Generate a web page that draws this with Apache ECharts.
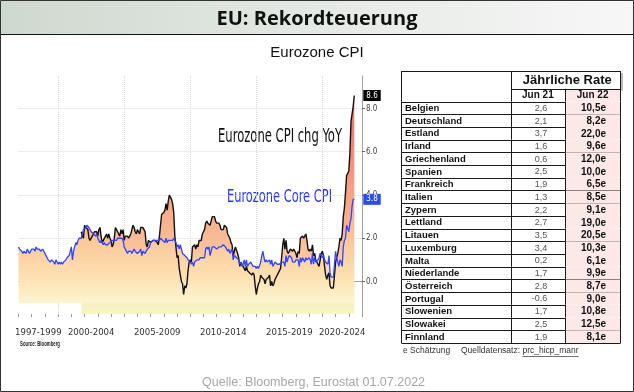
<!DOCTYPE html>
<html><head><meta charset="utf-8">
<script src="https://cdn.jsdelivr.net/npm/echarts@6/dist/echarts.min.js"></script>
<style>html,body{margin:0;padding:0;background:#fff}#c{width:634px;height:392px}</style>
</head><body><div id="c"></div>
<script>
// ---------- data ----------
const coreStart = [1997, 1];
const coreValues = [
 1.6,1.5,1.5,1.4,1.3,1.4,1.4,1.3,1.5,1.4,1.3,1.4,
 1.5,1.5,1.5,1.4,1.6,1.5,1.5,1.5,1.4,1.4,1.5,1.4,
 1.3,1.2,1.1,1.0,1.0,0.9,1.0,1.0,0.9,0.8,1.0,0.9,
 0.8,0.9,0.8,0.9,0.8,0.9,0.9,1.0,1.1,1.1,1.2,1.2,
 1.6,1.0,1.4,1.6,1.8,1.7,1.9,2.0,2.0,2.0,2.2,2.4,
 2.4,2.5,2.6,2.6,2.5,2.4,2.3,2.3,2.2,2.2,2.1,2.2,
 2.0,1.9,1.8,1.9,1.8,1.7,1.8,1.7,1.7,1.7,1.7,1.8,
 1.8,1.9,1.9,1.9,1.9,1.9,2.0,2.0,2.0,2.0,2.0,1.9,
 1.6,1.5,1.5,1.3,1.4,1.4,1.4,1.3,1.4,1.5,1.4,1.4,
 1.3,1.3,1.4,1.5,1.2,1.4,1.4,1.3,1.4,1.5,1.5,1.6,
 1.8,1.8,1.9,1.9,1.9,1.9,1.9,1.9,1.9,2.0,2.0,1.9,
 1.9,1.8,2.0,1.8,1.9,1.9,1.9,1.9,1.9,2.0,1.9,1.8,
 1.6,1.7,1.5,1.7,1.5,1.3,1.3,1.2,1.2,1.1,1.0,1.0,
 0.9,0.8,0.9,0.7,0.9,0.9,1.0,1.0,1.0,1.1,1.1,1.1,
 1.1,1.1,1.5,1.6,1.5,1.6,1.2,1.2,1.6,1.6,1.6,1.6,
 1.5,1.5,1.6,1.6,1.6,1.6,1.7,1.7,1.6,1.5,1.4,1.5,
 1.3,1.3,1.5,1.0,1.2,1.2,1.1,1.1,1.0,0.8,0.9,0.7,
 0.8,1.0,0.7,1.0,0.7,0.8,0.8,0.9,0.8,0.7,0.7,0.7,
 0.6,0.7,0.6,0.6,0.9,1.2,1.4,1.1,0.9,1.0,0.9,0.9,
 1.0,0.8,1.0,0.7,0.8,0.9,0.9,0.8,0.8,0.8,0.8,0.9,
 0.9,0.9,0.7,1.2,0.9,1.1,1.2,1.2,1.1,0.9,0.9,0.9,
 1.0,1.0,1.0,0.7,1.1,0.9,1.1,1.0,0.9,1.1,1.0,1.0,
 1.1,1.0,0.8,1.3,0.8,1.1,0.9,0.9,1.0,1.1,1.3,1.3,
 1.1,1.2,1.0,0.9,0.9,0.8,1.2,0.4,0.2,0.2,0.2,0.2,
 1.4,1.1,0.9,0.7,1.0,0.9,0.7,1.6,1.9,2.0,2.6,2.6,
 2.3,2.7,2.9,3.5,3.8,3.8
];
const cpiStart = [2001, 10];
const cpiValues = [
 2.3,2.1,2.0,
 2.6,2.5,2.5,2.4,2.0,1.9,2.0,2.1,2.1,2.3,2.3,2.3,
 2.1,2.4,2.5,2.1,1.8,1.9,1.9,2.1,2.2,2.0,2.2,2.0,
 1.9,1.6,1.7,2.0,2.5,2.4,2.3,2.3,2.1,2.4,2.2,2.4,
 1.9,2.1,2.1,2.1,2.0,2.1,2.2,2.2,2.6,2.5,2.3,2.2,
 2.4,2.3,2.2,2.5,2.5,2.5,2.4,2.3,1.7,1.6,1.9,1.9,
 1.8,1.8,1.9,1.9,1.9,1.9,1.8,1.7,2.1,2.6,3.1,3.1,
 3.2,3.3,3.6,3.3,3.7,4.0,4.0,3.8,3.6,3.2,2.1,1.6,
 1.1,1.2,0.6,0.6,0.0,-0.1,-0.6,-0.2,-0.3,-0.1,0.5,0.9,
 1.0,0.9,1.6,1.6,1.7,1.5,1.7,1.6,1.9,1.9,1.9,2.2,
 2.3,2.4,2.7,2.8,2.7,2.7,2.6,2.6,3.0,3.0,3.0,2.8,
 2.7,2.7,2.7,2.6,2.4,2.4,2.4,2.6,2.6,2.5,2.2,2.2,
 2.0,1.8,1.7,1.2,1.4,1.6,1.6,1.3,1.1,0.7,0.9,0.8,
 0.7,0.7,0.5,0.7,0.5,0.5,0.4,0.4,0.3,0.4,0.3,-0.2,
 -0.6,-0.3,-0.1,0.0,0.3,0.2,0.2,0.1,-0.1,0.1,0.1,0.2,
 0.3,-0.2,0.0,-0.2,-0.1,0.1,0.2,0.2,0.4,0.5,0.6,1.1,
 1.7,2.0,1.5,1.9,1.4,1.3,1.3,1.5,1.5,1.4,1.5,1.4,
 1.3,1.1,1.4,1.3,2.0,2.0,2.1,2.0,2.1,2.2,1.9,1.5,
 1.4,1.5,1.4,1.7,1.2,1.3,1.0,1.0,0.8,0.7,1.0,1.3,
 1.4,1.2,0.7,0.3,0.1,0.3,0.4,-0.2,-0.3,-0.3,-0.3,-0.3,
 0.9,0.9,1.3,1.6,2.0,1.9,2.2,3.0,3.4,4.1,4.9,5.0,
 5.1,5.9,7.4,7.4,8.1,8.6
];
const xLabels = ['1997-1999','2000-2004','2005-2009','2010-2014','2015-2019','2020-2024'];
const xLabelAt = [1998.5, 2002.5, 2007.5, 2012.5, 2017.5, 2021.5];
const xBreaks = [2000, 2005, 2010, 2015, 2020];
const yTicks = [0, 2, 4, 6, 8];

const countries = ['Belgien','Deutschland','Estland','Irland','Griechenland','Spanien','Frankreich','Italien','Zypern','Lettland','Litauen','Luxemburg','Malta','Niederlande','Österreich','Portugal','Slowenien','Slowakei','Finnland'];
const rateJun21 = [2.6,2.1,3.7,1.6,0.6,2.5,1.9,1.3,2.2,2.7,3.5,3.4,0.2,1.7,2.8,-0.6,1.7,2.5,1.9];
const rateJun22 = [10.5,8.2,22.0,9.6,12.0,10.0,6.5,8.5,9.1,19.0,20.5,10.3,6.1,9.9,8.7,9.0,10.8,12.5,8.1];
const tableHeader = 'Jährliche Rate';
const tableCols = ['Jun 21', 'Jun 22'];

// ---------- helpers ----------
const NARROW = "'Liberation Sans Narrow','Arial Narrow','DejaVu Sans Condensed',sans-serif";
const ARIAL = "'Liberation Sans',Arial,sans-serif";
function monthly(start, vals){ return vals.map((v,i)=>[start[0] + (start[1]-1+i)/12, v]); }
const cpiData = monthly(cpiStart, cpiValues);
const coreData = monthly(coreStart, coreValues);
const ctx = document.createElement('canvas').getContext('2d');
function measure(text, font){ ctx.font = font; return ctx.measureText(text).width; }
function fitText(text, left, cy, size, weight, family, color, width){
  const font = weight + ' ' + size + 'px ' + family;
  const w = measure(text, font);
  return {type:'text', x:left, y:cy, scaleX: width / w, style:{text:text, font:font, fill:color, align:'left', verticalAlign:'middle'}};
}
const fmt = v => v.toFixed(1).replace('.', ',');
const px = v => Math.round(v) + 0.5;
const G = echarts.graphic.LinearGradient;

const cpiGrad = new G(0, 95, 0, 314, [
  {offset:0, color:'#ee6f62'}, {offset:0.2, color:'#f2846f'}, {offset:0.45, color:'#f6a284'},
  {offset:0.6, color:'#f8b492'}, {offset:0.75, color:'#fac9a3'}, {offset:0.88, color:'#fbe2b9'},
  {offset:1, color:'#f6f7c4'}], true);
const coreGrad = new G(0, 195, 0, 302, [
  {offset:0, color:'#f7ab84'}, {offset:0.3, color:'#f9bf94'}, {offset:0.5, color:'#fbcd9f'},
  {offset:0.8, color:'#fde3b5'}, {offset:1, color:'#fbf5cf'}], true);

const lineStroke = {stroke:'#1a1a1a', lineWidth:1};
function L(x1,y1,x2,y2){ return {type:'line', shape:{x1:x1,y1:y1,x2:x2,y2:y2}, style:lineStroke}; }

function tableRow(params, api){
  const i = params.dataIndex;
  const tl = api.coord([0, i]), br = api.coord([4, i + 1]);
  const x2 = api.coord([2, i])[0], x3 = api.coord([3, i])[0];
  const top = tl[1], bot = br[1], left = tl[0], right = br[0];
  const mid = (top + bot) / 2 + 0.5;
  return {type:'group', children:[
    {type:'rect', shape:{x:x3, y:top, width:right - x3, height:bot - top}, style:{fill:'#fde8e8'}},
    L(px(left), px(bot), px(right), px(bot)),
    L(px(left), top, px(left), bot),
    L(px(x2), top, px(x2), bot),
    L(px(x3), top, px(x3), bot),
    L(px(right), top, px(right), bot),
    {type:'text', style:{text:countries[i], x:left + 4, y:mid, font:'bold 9.5px ' + ARIAL, fill:'#111', align:'left', verticalAlign:'middle'}},
    {type:'text', style:{text:fmt(rateJun21[i]), x:x3 - 18, y:mid, font:'9px ' + ARIAL, fill:'#555', align:'right', verticalAlign:'middle'}},
    {type:'text', style:{text:fmt(rateJun22[i]) + 'e', x:right - 14, y:mid, font:'bold 10px ' + ARIAL, fill:'#111', align:'right', verticalAlign:'middle'}}
  ]};
}
function tableHead(params, api){
  const tl = api.coord([0, -2.4]), mid1 = api.coord([2, -1]), br = api.coord([4, 0]);
  const x2 = mid1[0], x3 = api.coord([3, -1])[0];
  const top = tl[1], ym = mid1[1], bot = br[1], left = tl[0], right = br[0];
  return {type:'group', children:[
    {type:'rect', shape:{x:x3, y:ym, width:right - x3, height:bot - ym}, style:{fill:'#fde8e8'}},
    {type:'rect', shape:{x:right + 1, y:top + 2, width:2, height:ym - top}, style:{fill:'#bbbbbb'}},
    L(px(left), px(top), px(right), px(top)),
    L(px(x2), px(ym), px(right), px(ym)),
    L(px(left), px(bot), px(right), px(bot)),
    L(px(left), top, px(left), bot),
    L(px(x2), top, px(x2), bot),
    L(px(x3), ym, px(x3), bot),
    L(px(right), top, px(right), bot),
    {type:'text', style:{text:tableHeader, x:(x2 + right) / 2 + 2, y:(top + ym) / 2 + 1, font:'bold 13px ' + ARIAL, fill:'#111', align:'center', verticalAlign:'middle'}},
    {type:'text', style:{text:tableCols[0], x:(x2 + x3) / 2, y:(ym + bot) / 2 + 0.5, font:'bold 10px ' + ARIAL, fill:'#111', align:'center', verticalAlign:'middle'}},
    {type:'text', style:{text:tableCols[1], x:(x3 + right) / 2, y:(ym + bot) / 2 + 0.5, font:'bold 10px ' + ARIAL, fill:'#111', align:'center', verticalAlign:'middle'}}
  ]};
}

const chart = echarts.init(document.getElementById('c'), null, {renderer:'canvas', width:634, height:392});

const FOOT = '8.5px ' + ARIAL;
const qWidth = measure('Quelldatensatz: ', FOOT);
const linkW = measure('prc_hicp_manr', FOOT);

chart.setOption({
  animation:false,
  backgroundColor:'#ffffff',
  grid:[
    {left:18.5, right:272, top:76, bottom:78, outerBoundsMode:'none'},
    {left:401, width:219, top:71, bottom:49, outerBoundsMode:'none'}
  ],
  xAxis:[
    {type:'value', gridIndex:0, min:1997, max:2023,
     axisLine:{show:true, lineStyle:{color:'#a0a0a0'}},
     axisTick:{show:true, customValues:xBreaks, length:24, lineStyle:{color:'#dddddd'}},
     splitLine:{show:true, lineStyle:{color:'#d8d8d8', type:'dotted'}},
     axisLabel:{customValues:xLabelAt, margin:14, fontSize:9.5, fontFamily:NARROW, color:'#333',
       formatter:v => xLabels[xLabelAt.indexOf(v)] || ''}},
    {type:'value', gridIndex:0, min:1997, max:2023, interval:1, position:'bottom',
     axisLine:{show:false}, axisLabel:{show:false}, splitLine:{show:false},
     axisTick:{show:true, length:3, lineStyle:{color:'#999'}}},
    {type:'value', gridIndex:1, min:0, max:4, show:false}
  ],
  yAxis:[
    {type:'value', gridIndex:0, position:'right', min:-1.5, max:9.5,
     axisLine:{show:true, lineStyle:{color:'#a0a0a0'}},
     axisTick:{show:true, customValues:yTicks, length:3, lineStyle:{color:'#666'}},
     splitLine:{show:true, lineStyle:{color:'#d8d8d8', type:'dotted'}},
     axisLabel:{customValues:yTicks, margin:4, fontSize:8, fontFamily:NARROW, color:'#444', formatter:v => v.toFixed(1)}},
    {type:'value', gridIndex:1, min:-2.4, max:19, inverse:true, show:false}
  ],
  series:[
    {type:'line', xAxisIndex:0, yAxisIndex:0, data:cpiData, symbol:'none', silent:true, z:1,
     lineStyle:{width:0}, areaStyle:{origin:'start', color:cpiGrad, opacity:1}},
    {type:'line', xAxisIndex:0, yAxisIndex:0, data:coreData, symbol:'none', silent:true, z:2,
     lineStyle:{width:0}, areaStyle:{origin:-1.0, color:coreGrad, opacity:1}},
    {name:'Eurozone CPI chg YoY', type:'line', xAxisIndex:0, yAxisIndex:0, data:cpiData, symbol:'none', z:3,
     lineStyle:{color:'#111', width:1.4},
     endLabel:{show:true, formatter:p => p.value[1].toFixed(1), color:'#fff', backgroundColor:'#000',
       fontSize:8, fontFamily:NARROW, padding:[2,3,1,3], distance:9}},
    {name:'Eurozone Core CPI', type:'line', xAxisIndex:0, yAxisIndex:0, data:coreData, symbol:'none', z:4,
     lineStyle:{color:'#2f45ff', width:1.3},
     endLabel:{show:true, formatter:p => p.value[1].toFixed(1), color:'#fff', backgroundColor:'#2a4cf0',
       fontSize:8, fontFamily:NARROW, padding:[2,3,1,3], distance:9}},
    {type:'custom', xAxisIndex:2, yAxisIndex:1, data:[[0, -2.4]], renderItem:tableHead, silent:true, clip:false, z:5},
    {type:'custom', xAxisIndex:2, yAxisIndex:1, data:countries.map((c, i) => [0, i]), renderItem:tableRow, silent:true, clip:false, z:5}
  ],
  graphic:[
    {type:'rect', shape:{x:0, y:0, width:634, height:34},
     style:{fill:new G(0, 0, 1, 0, [{offset:0, color:'#cfd8cf'}, {offset:0.6, color:'#e9ece9'}, {offset:1, color:'#f7f7f7'}])}, z:-10},
    {type:'line', shape:{x1:0, y1:34.5, x2:634, y2:34.5}, style:{stroke:'#111', lineWidth:1}},
    {type:'rect', shape:{x:0.5, y:0.5, width:633, height:391}, style:{fill:null, stroke:'#333', lineWidth:1}, z:100},
    {type:'text', x:317, y:19, style:{text:'EU: Rekordteuerung', font:"bold 20px 'Open Sans',sans-serif", fill:'#111', align:'center', verticalAlign:'middle'}},
    {type:'text', x:317, y:53, style:{text:'Eurozone CPI', font:'15px ' + ARIAL, fill:'#111', align:'center', verticalAlign:'middle'}},
    fitText('Eurozone CPI chg YoY', 218, 137, 19, 'normal', NARROW, '#111', 124),
    fitText('Eurozone Core CPI', 227, 197, 18, 'normal', NARROW, '#2233ff', 105),
    fitText('Source: Bloomberg', 20, 344, 7, 'bold', ARIAL, '#222', 40),
    {type:'rect', shape:{x:92, y:303, width:24, height:8}, style:{fill:'#f6f6d6', stroke:'#e2e2c8', lineWidth:0.5}},
    {type:'text', x:94, y:307.5, style:{text:'∠ Annotate', font:'5px ' + ARIAL, fill:'#999', align:'left', verticalAlign:'middle'}},
    {type:'text', x:403, y:351, style:{text:'e Schätzung', font:FOOT, fill:'#333', align:'left', verticalAlign:'middle'}},
    {type:'text', x:461, y:351, style:{text:'Quelldatensatz: ', font:FOOT, fill:'#333', align:'left', verticalAlign:'middle'}},
    {type:'text', x:461 + qWidth, y:351, style:{text:'prc_hicp_manr', font:FOOT, fill:'#333', align:'left', verticalAlign:'middle'}},
    {type:'line', shape:{x1:461 + qWidth, y1:356.5, x2:461 + qWidth + linkW, y2:356.5}, style:{stroke:'#333', lineWidth:0.7}},
    {type:'text', x:202, y:383, style:{text:'Quelle: Bloomberg, Eurostat 01.07.2022', font:'12.5px ' + ARIAL, fill:'#a6a6a6', align:'left', verticalAlign:'middle'}}
  ]
});
</script></body></html>
